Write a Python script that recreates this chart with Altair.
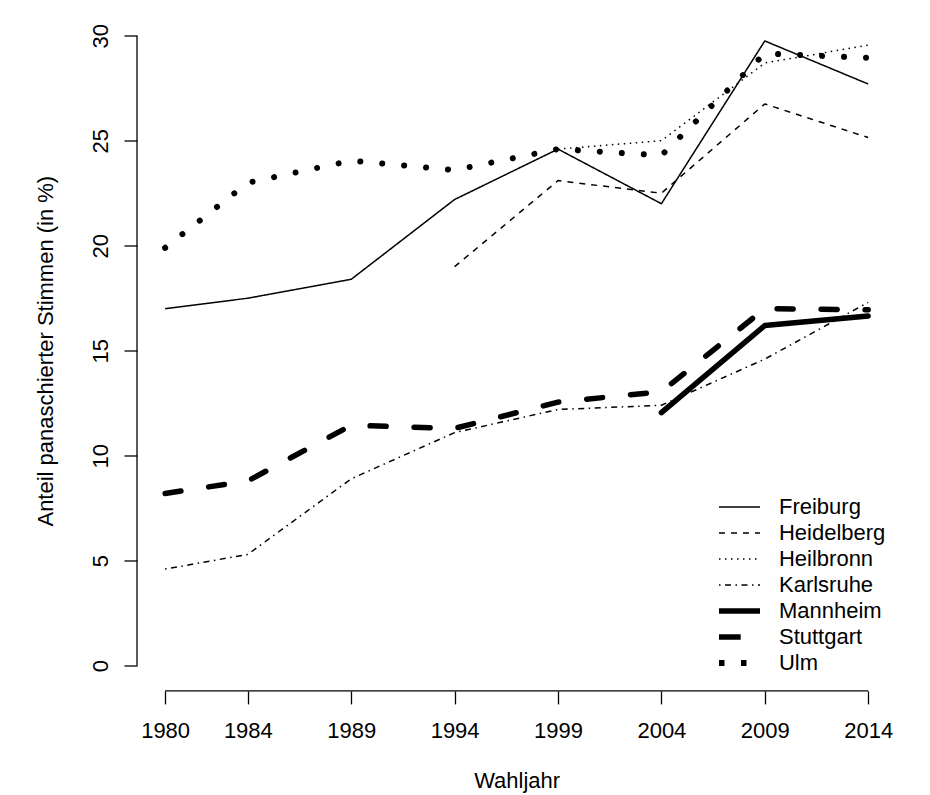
import altair as alt
import pandas as pd

years = [1980, 1984, 1989, 1994, 1999, 2004, 2009, 2014]
cities = ["Freiburg", "Heidelberg", "Heilbronn", "Karlsruhe", "Mannheim", "Stuttgart", "Ulm"]
freiburg = [17.0, 17.5, 18.4, 22.2, 24.6, 22.0, 29.75, 27.7]
heidelberg = [None, None, None, 19.0, 23.1, 22.5, 26.75, 25.15]
heilbronn = [None, None, None, None, 24.6, 25.0, 28.7, 29.55]
karlsruhe = [4.6, 5.3, 8.9, 11.1, 12.2, 12.4, 14.6, 17.3]
mannheim = [None, None, None, None, None, 12.05, 16.2, 16.65]
stuttgart = [8.2, 8.8, 11.45, 11.3, 12.55, 13.05, 17.0, 16.95]
ulm = [19.9, 23.0, 24.05, 23.6, 24.6, 24.3, 29.15, 28.95]
y_ticks = [0, 5, 10, 15, 20, 25, 30]

series = [freiburg, heidelberg, heilbronn, karlsruhe, mannheim, stuttgart, ulm]

# legend / thin-line styles (butt caps)
dashes = [[1, 0], [6, 6], [1.5, 4.5], [1.5, 4.5, 6, 4.5], [1, 0], [21.7, 22.3], [5.5, 16.5]]
widths = [1.5, 1.5, 1.5, 1.5, 5.5, 5.5, 6]
thin = cities[:4]

rows = []
for city, vals in zip(cities, series):
    for yr, v in zip(years, vals):
        if v is not None:
            rows.append({"city": city, "year": yr, "value": v})
df = pd.DataFrame(rows)

x_lo, x_hi = 1978.64, 2015.36
y_lo, y_hi = -1.2, 31.2
W, H = 759.3, 680.4
FONT = "Liberation Sans"
FS = 22

xscale = alt.Scale(domain=[x_lo, x_hi], nice=False, zero=False)
yscale = alt.Scale(domain=[y_lo, y_hi], nice=False, zero=False)

xaxis = alt.Axis(
    values=years, format="d", domain=False, grid=False,
    tickSize=13, tickWidth=1.3, tickColor="black",
    labelFont=FONT, labelFontSize=FS, labelColor="black",
    labelBaseline="alphabetic", labelPadding=34, labelFlush=False, labelOverlap=False,
    title="Wahljahr", titleFont=FONT, titleFontSize=FS, titleFontWeight="normal",
    titleColor="black", titleBaseline="alphabetic", titleY=97, titleX=W / 2,
    titleAlign="center",
)
yaxis = alt.Axis(
    values=y_ticks, domain=False, grid=False,
    tickSize=13, tickWidth=1.3, tickColor="black",
    labelFont=FONT, labelFontSize=FS, labelColor="black",
    labelAngle=270, labelAlign="center", labelBaseline="alphabetic",
    labelPadding=17, labelFlush=False, labelOverlap=False,
    title="Anteil panaschierter Stimmen (in %)", titleFont=FONT, titleFontSize=FS,
    titleFontWeight="normal", titleColor="black", titleAngle=270,
    titleBaseline="alphabetic", titleAlign="center", titleX=-85, titleY=H / 2,
)

leg = alt.Legend(
    title=None, orient="none", legendX=579, legendY=483.5,
    symbolType="stroke", symbolSize=1681, symbolStrokeColor="black",
    labelFont=FONT, labelFontSize=FS, labelColor="black", labelOffset=16,
    clipHeight=26, rowPadding=0, padding=0, labelLimit=400,
)

X = alt.X("year:Q", scale=xscale, axis=xaxis)
Y = alt.Y("value:Q", scale=yscale, axis=yaxis)

# thin lines + the legend
thin_lines = alt.Chart(df[df.city.isin(thin)]).mark_line(
    strokeCap="butt", strokeJoin="round", color="black"
).encode(
    x=X, y=Y,
    strokeDash=alt.StrokeDash("city:N", scale=alt.Scale(domain=cities, range=dashes), legend=leg),
    strokeWidth=alt.StrokeWidth("city:N", scale=alt.Scale(type="ordinal", domain=cities, range=widths), legend=leg),
    detail="city:N",
)

# thick lines with round ends
mann = alt.Chart(df[df.city == "Mannheim"]).mark_line(
    color="black", strokeWidth=5.5, strokeCap="round", strokeJoin="round"
).encode(x=X, y=Y)
stutt = alt.Chart(df[df.city == "Stuttgart"]).mark_line(
    color="black", strokeWidth=5.5, strokeCap="round", strokeJoin="round", strokeDash=[16, 28]
).encode(x=X, y=Y)
ulm_l = alt.Chart(df[df.city == "Ulm"]).mark_line(
    color="black", strokeWidth=6, strokeCap="round", strokeJoin="round", strokeDash=[0.01, 22]
).encode(x=X, y=Y)

# R-style axis lines (only spanning the ticks)
xline = alt.Chart(pd.DataFrame({"a": [years[0]], "b": [years[-1]], "c": [y_lo]})).mark_rule(
    color="black", strokeWidth=1.3
).encode(
    x=alt.X("a:Q", scale=xscale, axis=xaxis),
    x2="b:Q",
    y=alt.Y("c:Q", scale=yscale, axis=yaxis),
)
yline = alt.Chart(pd.DataFrame({"a": [x_lo], "b": [y_ticks[0]], "c": [y_ticks[-1]]})).mark_rule(
    color="black", strokeWidth=1.3
).encode(
    x=alt.X("a:Q", scale=xscale, axis=xaxis),
    y=alt.Y("b:Q", scale=yscale, axis=yaxis),
    y2="c:Q",
)

chart = alt.layer(thin_lines, mann, stutt, ulm_l, xline, yline).properties(
    width=W, height=H,
    autosize=alt.AutoSizeParams(type="none"),
    padding={"left": 129, "top": 2.5, "right": 20, "bottom": 104},
).configure_view(stroke=None)

chart.save("out.html", embed_options={"renderer": "svg", "actions": False})
